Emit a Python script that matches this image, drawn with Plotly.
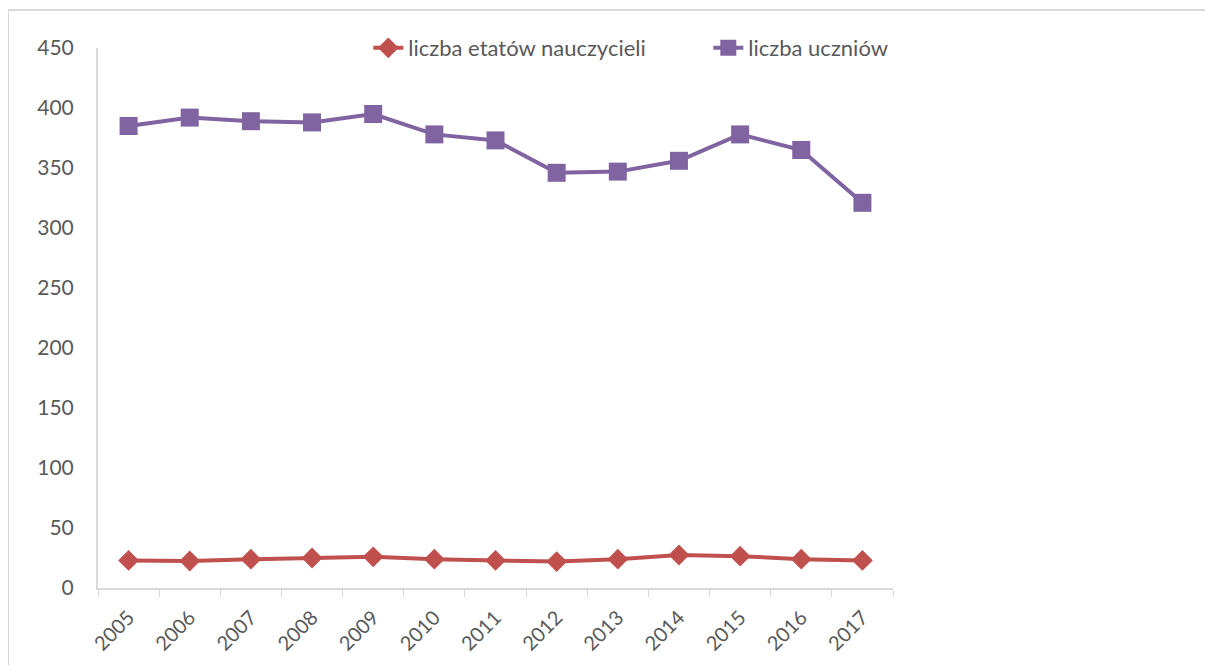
import plotly.graph_objects as go

# data
years = ["2005", "2006", "2007", "2008", "2009", "2010", "2011",
         "2012", "2013", "2014", "2015", "2016", "2017"]
etaty = [23, 22.5, 24, 25, 26, 24, 23, 22, 24, 27.5, 26.5, 24, 23]
uczniowie = [385, 392, 389, 388, 395, 378, 373, 346, 347, 356, 378, 365, 321]

# page body adds ~8px offset, so margins are shifted accordingly
W, H = 1213, 665
L, R, T, B = 90, 328, 40, 85
pw, ph = W - L - R, H - T - B

fig = go.Figure()
fig.add_trace(go.Scatter(x=years, y=etaty, name="liczba etatów nauczycieli",
                         mode="lines+markers",
                         line=dict(color="#c0504d", width=4),
                         marker=dict(symbol="diamond", size=16, color="#c0504d")))
fig.add_trace(go.Scatter(x=years, y=uczniowie, name="liczba uczniów",
                         mode="lines+markers",
                         line=dict(color="#8064a2", width=4),
                         marker=dict(symbol="square", size=18, color="#8064a2")))

# outer chart border (Excel-style frame), paper coords relative to plot area
fig.add_shape(type="rect", xref="paper", yref="paper",
              x0=(0 - L) / pw, x1=(W + 20 - L) / pw,
              y0=(H - B - (H + 20)) / ph, y1=(H - B - 2) / ph,
              line=dict(color="#d9d9d9", width=2), layer="below")

fig.update_layout(
    width=W, height=H,
    margin=dict(l=L, r=R, t=T, b=B, autoexpand=False),
    plot_bgcolor="white", paper_bgcolor="white",
    font=dict(family="Lato, 'Open Sans', sans-serif", color="#595959", size=21),
    showlegend=True,
    legend=dict(orientation="h", x=0.34, y=1.0, xanchor="left", yanchor="middle",
                font=dict(size=22, color="#595959"), entrywidth=295,
                bgcolor="rgba(0,0,0,0)"),
    xaxis=dict(type="category", tickson="boundaries", ticks="outside",
               ticklen=7, tickcolor="#d9d9d9", showline=True, linecolor="#d9d9d9",
               linewidth=2, showgrid=False, tickangle=-45, automargin=False,
               tickfont=dict(size=20, color="#595959"),
               ticklabelstandoff=8, range=[-0.5, 12.5]),
    yaxis=dict(range=[0, 450], dtick=50, showgrid=False, showline=True,
               linecolor="#d9d9d9", linewidth=2, ticks="", zeroline=False,
               automargin=False,
               tickfont=dict(size=21, color="#595959"), ticklabelstandoff=18),
)

fig.write_html("out.html")
